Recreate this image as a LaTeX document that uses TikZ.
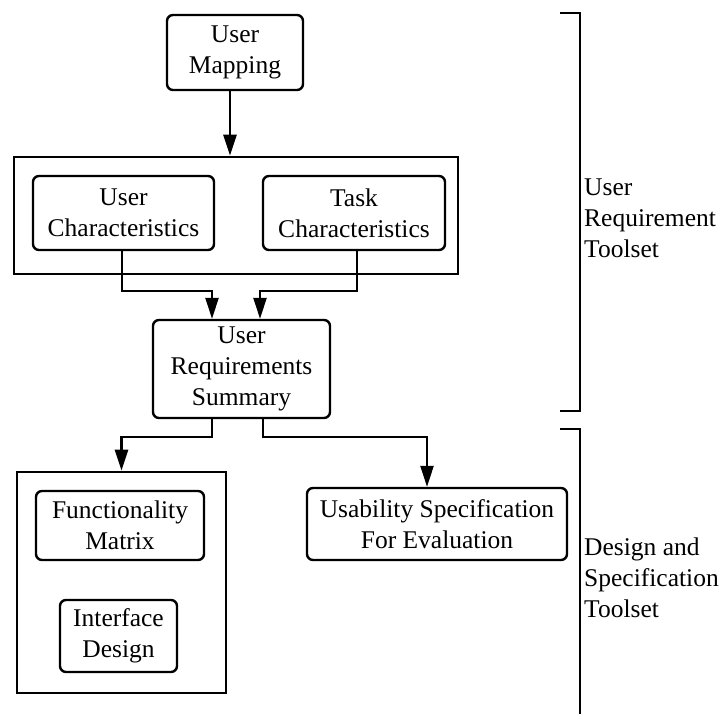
\documentclass[tikz,border=0pt]{standalone}
\usepackage{fontspec}
\setmainfont{Liberation Serif}
\usetikzlibrary{arrows.meta,calc}
\begin{document}
\begin{tikzpicture}[x=1pt,y=-1pt,
  every node/.style={font=\fontsize{25.5}{31}\selectfont, align=center, inner sep=0pt},
  tool/.style={draw, line width=2.4pt, rounded corners=6pt},
  group/.style={draw, line width=2.6pt},
  arr/.style={line width=2.6pt, -{Triangle[length=21pt,width=13pt]}},
  brace/.style={line width=2.6pt},
  side/.style={align=left, anchor=west}]
\useasboundingbox (0,0) rectangle (725,713);

% requirement toolset
\node[tool, minimum width=136pt, minimum height=75pt] (um) at (235,52.5) {User\\Mapping};
\node[group, minimum width=444pt, minimum height=117pt] (ob1) at (236,215.5) {};
\node[tool, minimum width=181pt, minimum height=74pt] (uc) at (123.5,213) {User\\Characteristics};
\node[tool, minimum width=182pt, minimum height=74pt] (tc) at (354,213) {Task\\Characteristics};
\node[tool, minimum width=177pt, minimum height=98pt] (urs) at (241.5,369) {User\\Requirements\\Summary};

% design and specification toolset
\node[group, minimum width=209pt, minimum height=221pt] (ob2) at (121.5,582.5) {};
\node[tool, minimum width=168pt, minimum height=69pt] (fm) at (120,525.5) {Functionality\\Matrix};
\node[tool, minimum width=117pt, minimum height=72pt] (id) at (118.5,636) {Interface\\Design};
\node[tool, minimum width=260pt, minimum height=72pt] (us) at (437,524) {Usability Specification\\For Evaluation};

% flow
\draw[arr] ([xshift=-5pt]um.south) -- ([xshift=-5pt]um.south |- ob1.north);
\draw[arr] ([xshift=-1.5pt]uc.south) -- ([xshift=-1.5pt]uc.south |- 0,291) -| ([xshift=-29.5pt]urs.north);
\draw[arr] ([xshift=3pt]tc.south) -- ([xshift=3pt]tc.south |- 0,291) -| ([xshift=18.5pt]urs.north);
\draw[arr] ([xshift=-29.5pt]urs.south) -- ([xshift=-29.5pt]urs.south |- 0,437) -| (ob2.north);
\draw[arr] ([xshift=21.5pt]urs.south) -- ([xshift=21.5pt]urs.south |- 0,437) -| ([xshift=-10pt]us.north);

% toolset brackets
\coordinate (b1t) at (560,13);
\coordinate (b1b) at (560,411);
\coordinate (b2t) at (560,429);
\coordinate (b2b) at (580,716);
\draw[brace] (b1t) -- ++(20,0) |- (b1b);
\draw[brace] (b2t) -- ++(20,0) -- (b2b);

\node[side] (lab1) at (584,218) {User\\Requirement\\Toolset};
\node[side] (lab2) at (584,578) {Design and\\Specification\\Toolset};
\end{tikzpicture}
\end{document}
